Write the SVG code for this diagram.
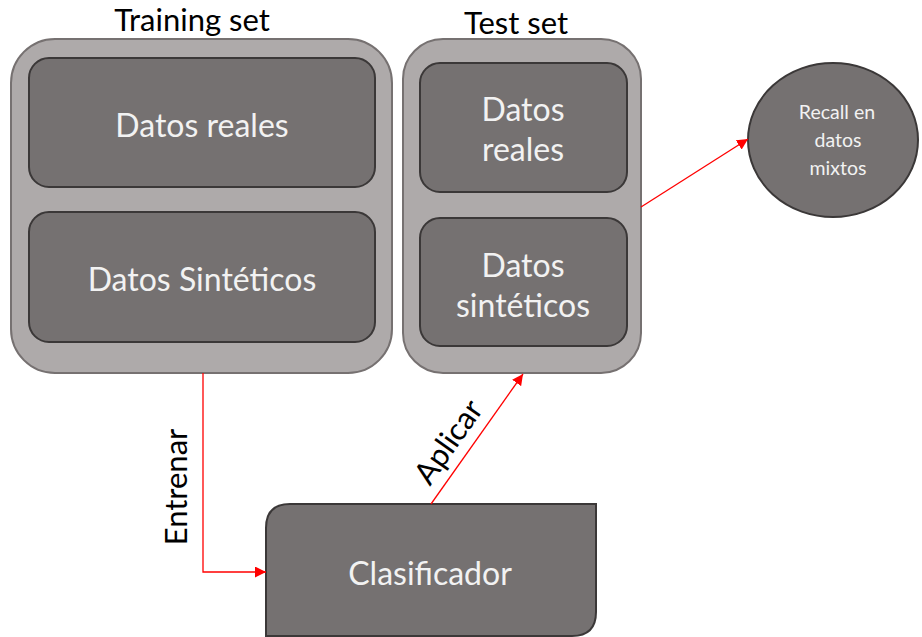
<svg xmlns="http://www.w3.org/2000/svg" width="922" height="637" viewBox="0 0 922 637">
  <style>
    .outer { fill: #aeaaaa; stroke: #767171; stroke-width: 2; }
    .inner { fill: #757171; stroke: #3b3838; stroke-width: 2; }
    .lbl { font-family: Lato, "Liberation Sans", sans-serif; fill: #f2f2f2; text-anchor: middle; dominant-baseline: central; }
    .big { font-size: 32px; }
    .title { font-family: Lato, "Liberation Sans", sans-serif; fill: #000; text-anchor: middle; font-size: 31px; }
    .edge { fill: none; stroke: #ff0000; stroke-width: 1.3; }
  </style>
  <defs>
    <marker id="arrow" viewBox="0 0 10 10" refX="10" refY="5" markerWidth="11" markerHeight="11" markerUnits="userSpaceOnUse" orient="auto">
      <path d="M0,0 L10,5 L0,10 Z" fill="#ff0000"/>
    </marker>
  </defs>
  <rect width="922" height="637" fill="#ffffff"/>

  <g id="training-set">
    <text class="title" x="192" y="31">Training set</text>
    <rect class="outer" x="11" y="39" width="381" height="334" rx="44" ry="44"/>
    <g id="train-reales">
      <rect class="inner" x="29" y="58" width="346" height="129" rx="20" ry="20"/>
      <text class="lbl big" x="202" y="124">Datos reales</text>
    </g>
    <g id="train-sinteticos">
      <rect class="inner" x="29" y="212" width="346" height="130" rx="20" ry="20"/>
      <text class="lbl big" x="202" y="278">Datos Sintéticos</text>
    </g>
  </g>

  <g id="test-set">
    <text class="title" x="516" y="34">Test set</text>
    <rect class="outer" x="403" y="39" width="238" height="334" rx="40" ry="40"/>
    <g id="test-reales">
      <rect class="inner" x="420" y="63" width="207" height="129" rx="20" ry="20"/>
      <text class="lbl big" x="523" y="108">Datos</text>
      <text class="lbl big" x="523" y="148">reales</text>
    </g>
    <g id="test-sinteticos">
      <rect class="inner" x="420" y="218" width="207" height="128" rx="20" ry="20"/>
      <text class="lbl big" x="523" y="264">Datos</text>
      <text class="lbl big" x="523" y="304">sintéticos</text>
    </g>
  </g>

  <g id="recall">
    <ellipse class="inner" cx="833" cy="140" rx="85" ry="77"/>
    <text class="lbl" x="837" y="111" font-size="19.5">Recall en</text>
    <text class="lbl" x="838" y="139" font-size="19.5">datos</text>
    <text class="lbl" x="838" y="167" font-size="19.5">mixtos</text>
  </g>

  <g id="clasificador">
    <path class="inner" d="M266,636 L266,528 Q266,504 290,504 L596,504 L596,612 Q596,636 572,636 Z"/>
    <text class="lbl big" x="430" y="572">Clasificador</text>
  </g>

  <g id="connectors">
    <path class="edge" d="M203,373 L203,572 L266,572" marker-end="url(#arrow)"/>
    <path class="edge" d="M431,504 L523,374" marker-end="url(#arrow)"/>
    <path class="edge" d="M641,207 L748,139" marker-end="url(#arrow)"/>
    <text class="title" transform="translate(187,487) rotate(-90)">Entrenar</text>
    <text class="title" transform="translate(457,448) rotate(-55)">Aplicar</text>
  </g>
</svg>
